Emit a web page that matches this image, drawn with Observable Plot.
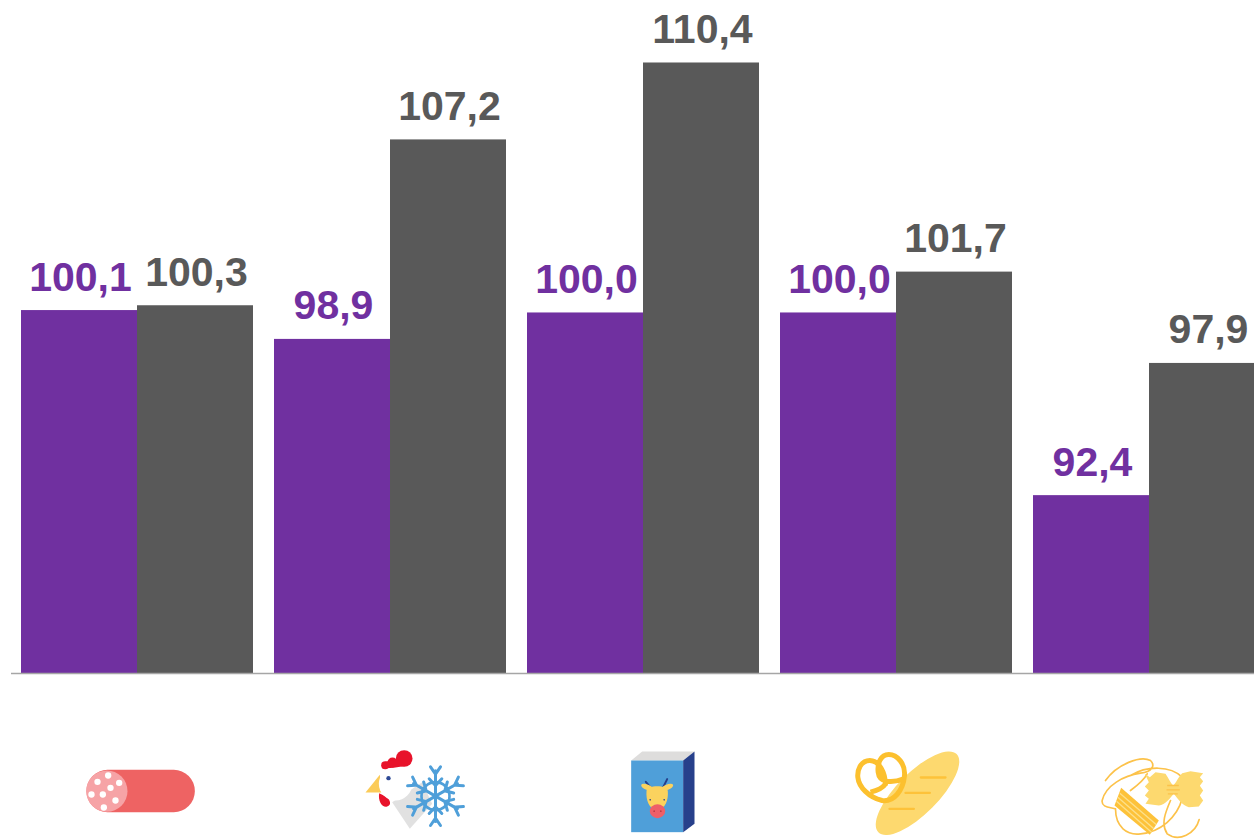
<!DOCTYPE html>
<html>
<head>
<meta charset="utf-8">
<script src="https://cdn.jsdelivr.net/npm/d3@7"></script>
<script src="https://cdn.jsdelivr.net/npm/@observablehq/plot@0.6"></script>
<style>
html,body{margin:0;padding:0;background:#fff;overflow:hidden}
svg.plot,svg{display:block}
</style>
</head>
<body>
<div id="chart"></div>
<script>
const categories = ["salumi", "pollo surgelato", "latte", "pane", "pasta"];
const seriesNames = ["a", "b"];
const purpleValues = [100.1, 98.9, 100.0, 100.0, 92.4];
const grayValues = [100.3, 107.2, 110.4, 101.7, 97.9];
const seriesColors = ["#7030A0", "#595959"];

const rows = categories.flatMap((c, i) => [
  {category: c, series: "a", value: purpleValues[i]},
  {category: c, series: "b", value: grayValues[i]}
]);
const fmt = v => v.toFixed(1).replace(".", ",");

// Icons: small inline SVG pictures, drawn in their own local viewBox.
const wrap = (vx, body) => "data:image/svg+xml;utf8," + encodeURIComponent(
  `<svg xmlns="http://www.w3.org/2000/svg" viewBox="${vx} 0 600 300" width="200" height="100">${body}</svg>`);

const salamiDots = [[113,105],[81,124],[146,127],[120,142],[63,162],[97,162],[135,180],[100,201]];
const salami = `<rect x="48" y="88" width="325" height="127" rx="63" fill="#EE6363"/>
<circle cx="109" cy="152" r="62" fill="#F6A3A6"/>` +
  salamiDots.map(d => `<circle cx="${d[0]}" cy="${d[1]}" r="9.5" fill="#fff"/>`).join("");

const flakeArm = `<path d="M0 0V-76M-15 -88L0 -66L15 -88M-19 -52L0 -32L19 -52" fill="none" stroke="#4F9FD9" stroke-width="9" stroke-linecap="round"/>`;
const chicken = `<polygon points="125,185 215,125 245,190 178,265" fill="#E1E1E1"/>
<path d="M86 158C82 182 95 202 110 198C124 194 120 178 106 168Z" fill="#E8132B"/>
<polygon points="45,156 88,103 94,156" fill="#FBCB58"/>
<circle cx="135" cy="130" r="50" fill="#fff"/>
<circle cx="104" cy="74" r="12" fill="#E8132B"/><circle cx="126" cy="66" r="15" fill="#E8132B"/><circle cx="161" cy="54" r="25" fill="#E8132B"/>
<polygon points="96,84 130,82 168,76 140,55 100,65" fill="#E8132B"/>
<circle cx="114" cy="113" r="6.5" fill="#2E4A96"/>
<g transform="translate(255,167)"><circle r="42" fill="none" stroke="#4F9FD9" stroke-width="8"/>` +
  [0,60,120,180,240,300].map(a => `<g transform="rotate(${a})">${flakeArm}</g>`).join("") + `</g>`;

const milk = `<polygon points="62,60 95,33 252,33 218,60" fill="#DEDDDC"/>
<rect x="62" y="60" width="156" height="215" fill="#4F9FD9"/>
<polygon points="218,60 252,33 252,250 218,275" fill="#27408B"/>
<path d="M126 148L106 124M154 148L170 116" stroke="#27408B" stroke-width="6" stroke-linecap="round"/>
<ellipse cx="110" cy="140" rx="19" ry="8" transform="rotate(20 110 140)" fill="#FBD25E"/>
<ellipse cx="170" cy="140" rx="19" ry="8" transform="rotate(-20 170 140)" fill="#FBD25E"/>
<path d="M108 152C108 132 172 132 172 152C174 178 165 205 140 210C115 205 106 178 108 152Z" fill="#FBD25E"/>
<ellipse cx="141" cy="212" rx="23" ry="21" fill="#EE5F68"/>
<circle cx="119" cy="178" r="2.5" fill="#27408B"/><circle cx="161" cy="178" r="2.5" fill="#27408B"/>
<circle cx="131" cy="212" r="2.5" fill="#B83A45"/><circle cx="151" cy="212" r="2.5" fill="#B83A45"/>`;

const bread = `<ellipse cx="231" cy="158" rx="166" ry="62" transform="rotate(-45 231 158)" fill="#FDD96F"/>
<path d="M241 111H315M195 157H268M147 205H220" stroke="#FDC23A" stroke-width="7" stroke-linecap="round"/>
<path d="M135 135C135 95 115 60 88 60C60 60 50 90 52 110C55 140 85 170 125 180C160 185 188 150 192 105C195 70 170 42 145 42C120 42 110 70 113 95C116 125 150 130 190 115M135 130C125 145 110 150 90 155" fill="none" stroke="#FCC02E" stroke-width="15"/>`;

const pasta = `<path d="M45 120C80 70 150 45 180 60C195 75 185 95 150 98C100 105 45 135 35 180C32 200 55 200 75 205M120 105C170 75 240 75 275 110M120 150C140 135 160 120 170 100M75 205C75 260 110 285 150 280C210 275 260 230 275 175M240 180C225 215 210 250 230 280C265 305 315 280 326 237" fill="none" stroke="#FCC24A" stroke-width="5" stroke-linecap="round"/>
<path d="M163 100L178 110L195 95L225 100C235 115 240 128 248 135C256 128 262 112 275 98L300 92L338 98L328 110L338 122L328 136L338 150L328 165L338 180L325 198L295 200C275 195 262 175 250 160C240 170 225 195 205 195L165 190L175 175L163 165L175 150L163 138L175 125Z" fill="#FDD96F"/>
<path d="M230 135L265 135M228 148L268 148M232 160L262 160" stroke="#FCC24A" stroke-width="4"/>
<polygon points="92,142 205,240 178,283 72,195" fill="#FDC23A"/>
<path d="M88 158L197 252M82 170L190 265M78 182L183 275" stroke="#FDE08A" stroke-width="4"/>`;

const iconSources = [wrap(-99, salami), wrap(-180, chicken), wrap(-201, milk), wrap(-132, bread), wrap(-123, pasta)];
const icons = categories.map((c, i) => ({category: c, src: iconSources[i]}));

const chart = Plot.plot({
  width: 1254,
  height: 840,
  marginTop: 0,
  marginLeft: 21,
  marginRight: -11,
  marginBottom: 167,
  style: {background: "#fff", overflow: "hidden"},
  fx: {domain: categories, paddingInner: 21 / 253, paddingOuter: 0, round: false, axis: null, label: null},
  x: {domain: seriesNames, padding: 0, round: false, axis: null, label: null},
  y: {domain: [85, 113], axis: null, label: null},
  color: {domain: seriesNames, range: seriesColors},
  marks: [
    Plot.barY(rows, {fx: "category", x: "series", y1: 85, y2: "value", fill: "series", inset: 0}),
    Plot.text(rows, {
      fx: "category", x: "series", y: "value", text: d => fmt(d.value),
      fill: "series", dy: -20, dx: 1, lineAnchor: "bottom",
      fontFamily: "Liberation Sans", fontWeight: "bold", fontSize: 41
    }),
    Plot.ruleY([85], {stroke: "#A6A6A6", strokeWidth: 1.5, insetLeft: -10, insetRight: -11}),
    Plot.image(icons, {fx: "category", src: "src", width: 200, height: 100, frameAnchor: "bottom", dy: 117})
  ]
});
document.getElementById("chart").append(chart);
</script>
</body>
</html>
